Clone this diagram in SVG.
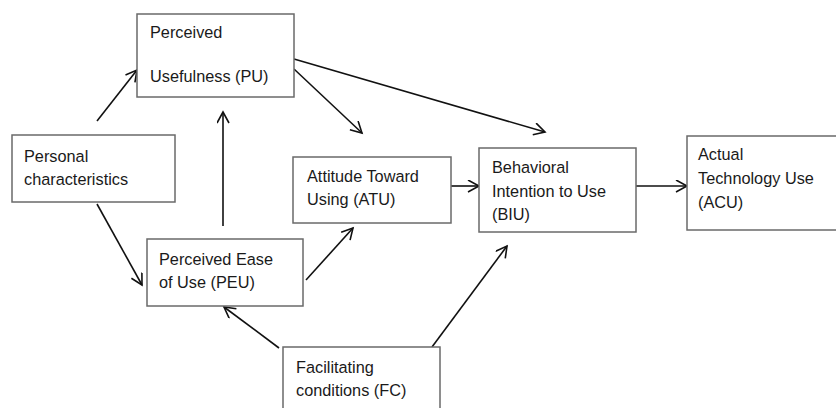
<svg xmlns="http://www.w3.org/2000/svg" width="836" height="408" viewBox="0 0 836 408">
<defs>
<marker id="arr" markerUnits="userSpaceOnUse" markerWidth="16" markerHeight="16" refX="12" refY="6.5" orient="auto">
<path d="M1,0.5 L12,6.5 L1,12.5" fill="none" stroke="#111" stroke-width="1.6"/>
</marker>
<style>
.box{fill:#fff;stroke:#6a6a6a;stroke-width:1.5}
.t{font-family:"Liberation Sans",Arial,sans-serif;font-size:16.3px;fill:#1a1a1a}
.c{stroke:#111;stroke-width:1.6;fill:none;marker-end:url(#arr)}
</style>
</defs>
<rect width="836" height="408" fill="#fff"/>
<g id="connectors">
<line class="c" x1="97" y1="121" x2="137" y2="70"/>
<line class="c" x1="97" y1="204" x2="142" y2="285"/>
<line class="c" x1="223" y1="226" x2="223" y2="112"/>
<line class="c" x1="294" y1="69" x2="362" y2="133"/>
<line class="c" x1="294" y1="59" x2="545" y2="132"/>
<line class="c" x1="306" y1="280" x2="353" y2="228"/>
<line class="c" x1="451" y1="186" x2="479" y2="186"/>
<line class="c" x1="636" y1="186" x2="687" y2="186"/>
<line class="c" x1="279" y1="348" x2="224" y2="307"/>
<line class="c" x1="432" y1="347" x2="507" y2="246"/>
</g>
<g id="PU">
<rect class="box" x="137" y="14" width="157" height="83"/>
<text class="t" x="150" y="38">Perceived</text>
<text class="t" x="150" y="82">Usefulness (PU)</text>
</g>
<g id="PC">
<rect class="box" x="12" y="135" width="163" height="67"/>
<text class="t" x="24" y="162">Personal</text>
<text class="t" x="24" y="185">characteristics</text>
</g>
<g id="ATU">
<rect class="box" x="293" y="157" width="158" height="66"/>
<text class="t" x="307" y="182">Attitude Toward</text>
<text class="t" x="307" y="205">Using (ATU)</text>
</g>
<g id="PEU">
<rect class="box" x="147" y="239" width="156" height="67"/>
<text class="t" x="159" y="265">Perceived Ease</text>
<text class="t" x="159" y="288">of Use (PEU)</text>
</g>
<g id="BIU">
<rect class="box" x="479" y="148" width="157" height="84"/>
<text class="t" x="492" y="173">Behavioral</text>
<text class="t" x="492" y="197">Intention to Use</text>
<text class="t" x="492" y="220">(BIU)</text>
</g>
<g id="ACU">
<rect class="box" x="687" y="136" width="160" height="94"/>
<text class="t" x="698" y="160">Actual</text>
<text class="t" x="698" y="184">Technology Use</text>
<text class="t" x="698" y="208">(ACU)</text>
</g>
<g id="FC">
<rect class="box" x="283" y="347" width="157" height="75"/>
<text class="t" x="296" y="373">Facilitating</text>
<text class="t" x="296" y="396">conditions (FC)</text>
</g>
</svg>
